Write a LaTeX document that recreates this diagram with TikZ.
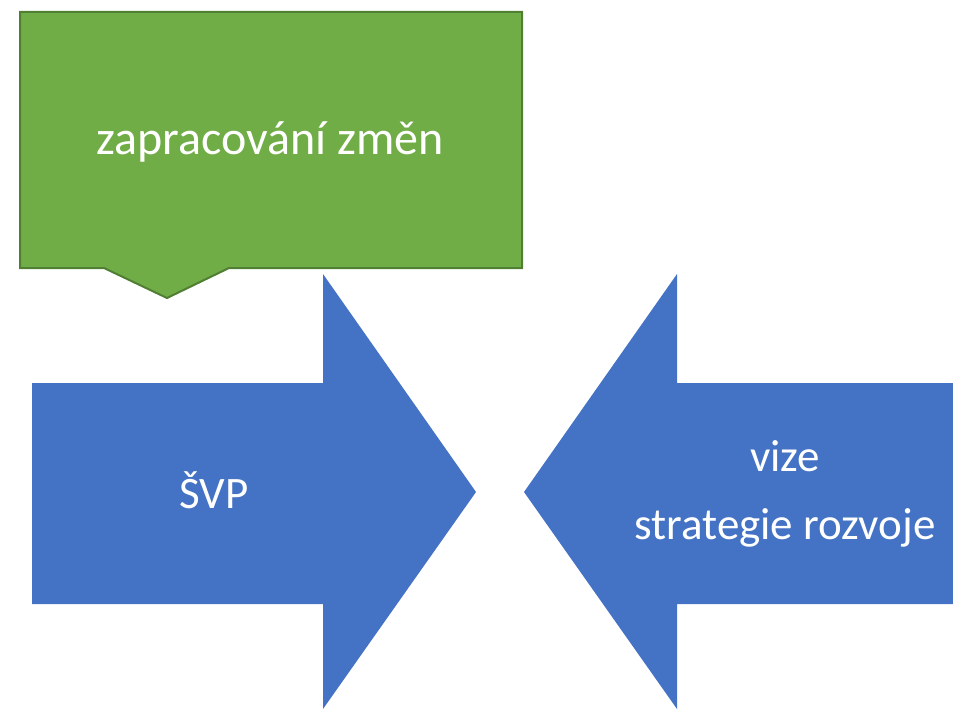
\documentclass[tikz,border=0pt]{standalone}
\usepackage{fontspec}
\setmainfont{Carlito}
\usepackage{tikz}
\definecolor{gf}{rgb}{0.439, 0.678, 0.278}
\definecolor{gd}{rgb}{0.314, 0.494, 0.196}
\definecolor{bf}{rgb}{0.267, 0.447, 0.769}

\begin{document}
\begin{tikzpicture}[x=1pt,y=-1pt,
    lbl/.style={text=white,align=center,inner sep=0pt}]%
      \useasboundingbox (0,0) rectangle (953,709);
      % callout
      \draw [fill=gf,draw=gd,line width=2pt,line join=miter]%
        (20,12) -- (522,12) -- (522,268) -- (229,268) -- (167,298)
        -- (104,268) -- (20,268) -- cycle;
      % left arrow
      \fill [bf] (32,383) -- (323,383) -- (323,274) -- (476,492)
        -- (323,709) -- (323,604) -- (32,604) -- cycle;
      % right arrow
      \fill [bf] (953,383) -- (677,383) -- (677,274) -- (524,492)
        -- (677,709) -- (677,604) -- (953,604) -- cycle;
      \node [lbl,font=\fontsize{48}{58}\selectfont] (zmeny) at (270,142) {zapracování změn};
      \node [lbl,font=\fontsize{45}{54}\selectfont] (svp) at (214,490) {ŠVP};
      \node [lbl,font=\fontsize{45}{68}\selectfont] (vize) at (785,494) {vize\\strategie rozvoje};
    \end{tikzpicture}
\end{document}
